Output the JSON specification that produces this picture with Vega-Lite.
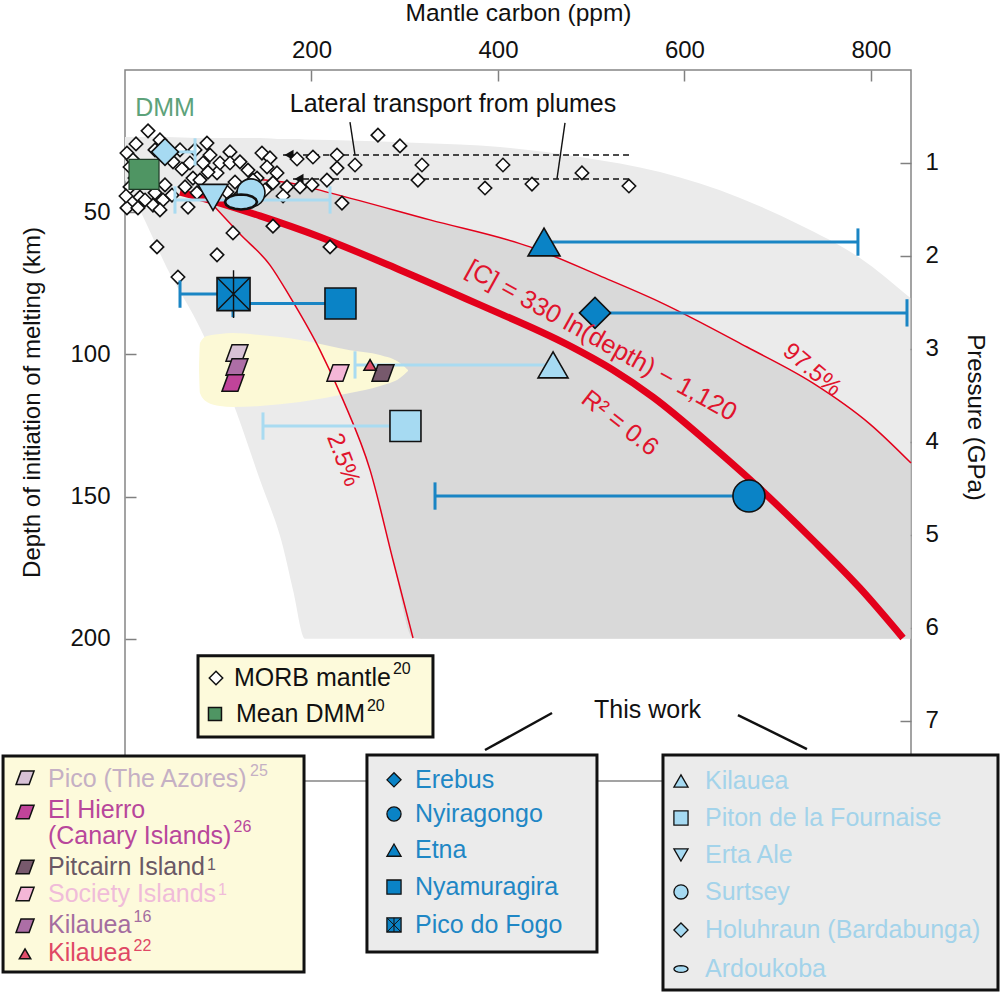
{
"$schema": "https://vega.github.io/schema/vega-lite/v6.json",
"width": 786, "height": 711,
"autosize": {"type": "none"},
"padding": {"left": 125, "top": 70, "right": 89, "bottom": 211},
"background": "white",
"config": {
  "font": "Liberation Sans",
  "view": {"stroke": "#858585", "strokeWidth": 1.5},
  "axis": {"domain": false, "grid": false, "tickColor": "#808080", "tickWidth": 1.5, "tickSize": -11,
           "labelFont": "Liberation Sans", "labelFontSize": 24, "labelColor": "#111",
           "titleFont": "Liberation Sans", "titleFontSize": 25, "titleFontWeight": "normal", "titleColor": "#111"}
},
"datasets": {
  "lightGray": [
    {"c":0,"top":23.6,"bot":38.7},{"c":16.1,"top":23.6,"bot":49.2},{"c":23.6,"top":23.6,"bot":54.5},
    {"c":45.0,"top":23.6,"bot":69.6},{"c":77.2,"top":23.9,"bot":88.6},{"c":112.6,"top":23.9,"bot":114.3},
    {"c":144.8,"top":23.9,"bot":144.2},{"c":169.5,"top":24.3,"bot":167.7},{"c":180.2,"top":24.3,"bot":182.8},
    {"c":193.1,"top":24.4,"bot":200},{"c":219.9,"top":24.6,"bot":200},{"c":316.4,"top":25.7,"bot":200},
    {"c":402.2,"top":27.1,"bot":200},{"c":488.0,"top":30.6,"bot":200},{"c":573.8,"top":35.9,"bot":200},
    {"c":659.6,"top":45.0,"bot":200},{"c":723.9,"top":54.5,"bot":200},{"c":788.3,"top":66.1,"bot":200},
    {"c":842.3,"top":80.2,"bot":200}
  ],
  "darkGray": [
    {"c":94.4,"top":45.4,"bot":47.5},{"c":123.3,"top":39.5,"bot":57.7},{"c":134.1,"top":38.3,"bot":61.4},
    {"c":155.5,"top":39.0,"bot":68.6},{"c":177.0,"top":39.7,"bot":79.8},{"c":209.1,"top":42.3,"bot":98.5},
    {"c":219.9,"top":43.2,"bot":106.2},{"c":233.8,"top":44.4,"bot":116.0},{"c":262.8,"top":47.0,"bot":140.6},
    {"c":287.4,"top":49.2,"bot":172.3},{"c":308.9,"top":51.1,"bot":199.7},{"c":327.1,"top":52.7,"bot":200},
    {"c":434.4,"top":62.2,"bot":200},{"c":509.4,"top":72.4,"bot":200},{"c":573.8,"top":81.6,"bot":200},
    {"c":667.1,"top":97.4,"bot":200},{"c":737.9,"top":110.1,"bot":200},{"c":799.0,"top":124.5,"bot":200},
    {"c":842.3,"top":138.0,"bot":200}
  ],
  "yellow": [
    {"c":79.4,"top":104.8,"bot":105.5},{"c":80.4,"top":96.0,"bot":113.6},{"c":87.9,"top":93.5,"bot":116.7},
    {"c":101.9,"top":92.8,"bot":118.1},{"c":115.8,"top":92.5,"bot":118.5},{"c":144.8,"top":93.2,"bot":118.1},
    {"c":187.7,"top":94.9,"bot":116.7},{"c":241.3,"top":98.5,"bot":113.6},{"c":273.5,"top":100.2,"bot":111.1},
    {"c":294.9,"top":103.0,"bot":108.3},{"c":303.5,"top":105.5,"bot":105.8}
  ],
  "curves": [
    {"k":"p975","c":134.1,"d":38.3},{"k":"p975","c":177.0,"d":39.7},{"k":"p975","c":219.9,"d":43.2},
    {"k":"p975","c":327.1,"d":52.7},{"k":"p975","c":434.4,"d":62.2},{"k":"p975","c":509.4,"d":72.4},
    {"k":"p975","c":573.8,"d":81.6},{"k":"p975","c":667.1,"d":97.4},{"k":"p975","c":737.9,"d":110.1},
    {"k":"p975","c":799.0,"d":124.5},{"k":"p975","c":843,"d":138.2},
    {"k":"p025","c":94.4,"d":47.5},{"k":"p025","c":123.3,"d":57.7},{"k":"p025","c":155.5,"d":68.6},
    {"k":"p025","c":177.0,"d":79.8},{"k":"p025","c":209.1,"d":98.5},{"k":"p025","c":233.8,"d":116.0},
    {"k":"p025","c":262.8,"d":140.6},{"k":"p025","c":287.4,"d":172.3},{"k":"p025","c":308.9,"d":199.7},
    {"k":"fit","c":59.0,"d":42.9},{"k":"fit","c":94.4,"d":46.1},{"k":"fit","c":144.8,"d":51.3},
    {"k":"fit","c":209.1,"d":58.7},{"k":"fit","c":294.9,"d":70.3},{"k":"fit","c":380.7,"d":82.6},
    {"k":"fit","c":474.0,"d":96.5},{"k":"fit","c":523.4,"d":105.5},{"k":"fit","c":566.3,"d":115.0},
    {"k":"fit","c":630.6,"d":132.5},{"k":"fit","c":670.3,"d":144.0},{"k":"fit","c":737.9,"d":165.3},
    {"k":"fit","c":788.3,"d":182.2},{"k":"fit","c":834.4,"d":199.7}
  ],
  "morb": [
    {"c":24.7,"d":21.4},{"c":11.8,"d":26.0},{"c":87.9,"d":25.7},{"c":112.6,"d":28.8},{"c":146.9,"d":29.2},
    {"c":155.5,"d":30.9},{"c":184.5,"d":31.3},{"c":201.6,"d":30.6},{"c":2.1,"d":29.2},{"c":5.4,"d":34.1},
    {"c":51.5,"d":32.3},{"c":61.1,"d":34.8},{"c":69.7,"d":32.7},{"c":83.7,"d":32.7},{"c":98.7,"d":36.2},
    {"c":101.9,"d":32.7},{"c":112.6,"d":32.7},{"c":123.3,"d":32.3},{"c":131.9,"d":35.2},{"c":141.6,"d":38.0},
    {"c":152.3,"d":34.1},{"c":163.0,"d":36.2},{"c":158.7,"d":39.7},{"c":173.7,"d":41.1},{"c":187.7,"d":41.1},
    {"c":200.6,"d":40.4},{"c":169.5,"d":44.3},{"c":5.4,"d":41.1},{"c":16.1,"d":44.7},{"c":30.0,"d":47.5},
    {"c":40.8,"d":45.7},{"c":2.1,"d":48.5},{"c":13.9,"d":48.5},{"c":67.6,"d":48.2},{"c":64.4,"d":41.1},
    {"c":77.2,"d":43.2},{"c":109.4,"d":42.9},{"c":118.0,"d":39.4},{"c":137.3,"d":38.7},{"c":72.9,"d":38.0},
    {"c":89.0,"d":35.9},{"c":115.8,"d":57.3},{"c":158.7,"d":54.9},{"c":34.3,"d":62.2},{"c":98.7,"d":65.0},
    {"c":56.8,"d":72.8},{"c":219.9,"d":62.2},{"c":271.3,"d":22.9},{"c":294.9,"d":26.7},{"c":227.4,"d":29.9},
    {"c":246.7,"d":33.4},{"c":227.4,"d":34.5},{"c":318.5,"d":33.4},{"c":314.2,"d":38.7},{"c":405.4,"d":33.4},
    {"c":386.1,"d":41.5},{"c":436.5,"d":40.1},{"c":490.1,"d":36.2},{"c":540.5,"d":40.8},{"c":232.7,"d":46.8},
    {"c":8.6,"d":31.6},{"c":21.5,"d":35.2},{"c":26.8,"d":38.7},{"c":16.1,"d":35.9},{"c":32.2,"d":43.2},
    {"c":1.1,"d":44.3},{"c":21.5,"d":45.7},{"c":42.9,"d":40.4},{"c":10.7,"d":38.0},{"c":37.5,"d":49.2},
    {"c":50.4,"d":44.0},{"c":80.4,"d":38.7},{"c":91.2,"d":29.9},{"c":59.0,"d":28.1},{"c":37.5,"d":24.6},
    {"c":216.6,"d":38.7},{"c":134.1,"d":44.0},{"c":32.2,"d":28.1},{"c":75.1,"d":28.1},{"c":150.2,"d":42.2},
    {"c":123.3,"d":44.0}
  ],
  "dashes": [{"c":169.5,"c2":541.6,"d":29.9},{"c":180.2,"c2":541.6,"d":38.3}],
  "arrows": [{"c":175.9,"d":29.9},{"c":186.6,"d":38.3}],
  "leaders": [{"c":241.3,"d":18.3,"c2":246.7,"d2":29.9},{"c":471.9,"d":18.6,"c2":463.3,"d2":38.3}],
  "twLines": [{"c":458.0,"d":226.1,"c2":386.1,"d2":239.1},{"c":657.4,"d":226.8,"c2":731.4,"d2":238.8}],
  "bars": [
    {"name":"Etna","tone":"dark","c":449.4,"c2":786.1,"d":60.5},
    {"name":"Erebus","tone":"dark","c":504.1,"c2":838.7,"d":85.4},
    {"name":"Nyiragongo","tone":"dark","c":332.5,"c2":669.2,"d":149.8},
    {"name":"Nyamuragira","tone":"dark","c":115.8,"c2":231.1,"d":82.1},
    {"name":"Pico do Fogo","tone":"dark","c":59.0,"c2":116.4,"d":78.8},
    {"name":"Kilauea","tone":"light","c":246.7,"c2":459.1,"d":103.7},
    {"name":"Piton de la Fournaise","tone":"light","c":148.0,"c2":300.8,"d":125.2},
    {"name":"Holuhraun (Bardabunga)","tone":"light","c":42.9,"c2":75.1,"d":28.8},
    {"name":"Surtsey","tone":"light","c":53.6,"c2":219.9,"d":45.7}
  ],
  "caps": [
    {"tone":"dark","c":786.1,"d":55.7,"d2":65.3},
    {"tone":"dark","c":838.7,"d":80.6,"d2":90.2},
    {"tone":"dark","c":332.5,"d":145.0,"d2":154.6},
    {"tone":"dark","c":115.8,"d":77.3,"d2":86.9},
    {"tone":"dark","c":59.0,"d":74.0,"d2":83.6},
    {"tone":"light","c":246.7,"d":98.9,"d2":108.5},
    {"tone":"light","c":148.0,"d":120.4,"d2":130.0},
    {"tone":"light","c":75.1,"d":24.0,"d2":33.6},
    {"tone":"light","c":53.6,"d":40.9,"d2":50.5},
    {"tone":"light","c":219.9,"d":40.9,"d2":50.5}
  ],
  "big": [
    {"name":"Etna","c":449.4,"d":60.5},
    {"name":"Erebus","c":504.1,"d":85.4},
    {"name":"Nyiragongo","c":669.2,"d":149.8},
    {"name":"Nyamuragira","c":231.1,"d":82.1},
    {"name":"Pico do Fogo","c":116.4,"d":78.8},
    {"name":"Kilauea","c":459.1,"d":103.7},
    {"name":"Piton de la Fournaise","c":300.8,"d":125.2},
    {"name":"Erta Ale","c":94.4,"d":44.8},
    {"name":"Surtsey","c":135.1,"d":43.2},
    {"name":"Ardoukoba","c":124.4,"d":46.4},
    {"name":"Holuhraun (Bardabunga)","c":42.9,"d":28.8}
  ],
  "hot": [
    {"name":"Pico","c":120.1,"d":99.5},
    {"name":"Kilauea16","c":120.1,"d":104.4},
    {"name":"El Hierro","c":115.8,"d":110.1},
    {"name":"Society","c":228.4,"d":106.5},
    {"name":"Pitcairn","c":276.7,"d":106.5},
    {"name":"Kilauea22","c":262.8,"d":103.7}
  ],
  "boxes": [
    {"box":"morb","c":78.3,"c2":330.3,"d":206.0,"d2":234.5},
    {"box":"hot","c":-130.8,"c2":192.0,"d":241.2,"d2":317.2},
    {"box":"mid","c":259.5,"c2":506.2,"d":240.9,"d2":310.1},
    {"box":"right","c":577.0,"c2":936.3,"d":240.9,"d2":323.5}
  ],
  "lgHot": [
    {"name":"Pico","c":-107.2,"d":248.9},
    {"name":"El Hierro","c":-107.2,"d":260.9},
    {"name":"Pitcairn","c":-107.2,"d":280.2},
    {"name":"Society","c":-107.2,"d":289.7},
    {"name":"Kilauea16","c":-107.2,"d":300.9},
    {"name":"Kilauea22","c":-107.2,"d":310.8}
  ],
  "lgHotText": [
    {"name":"Pico","t":"Pico (The Azores)","c":-82.6,"d":249.3},
    {"name":"El Hierro","t":"El Hierro\n(Canary Islands)","c":-82.6,"d":260.2},
    {"name":"Pitcairn","t":"Pitcairn Island","c":-82.6,"d":280.4},
    {"name":"Society","t":"Society Islands","c":-82.6,"d":289.6},
    {"name":"Kilauea16","t":"Kilauea","c":-82.6,"d":300.6},
    {"name":"Kilauea22","t":"Kilauea","c":-82.6,"d":310.4}
  ],
  "sups": [
    {"name":"Pico","t":"25","c":134.1,"d":246.5},
    {"name":"El Hierro","t":"26","c":116.4,"d":266.0},
    {"name":"Pitcairn","t":"1","c":87.9,"d":279.7},
    {"name":"Society","t":"1","c":99.7,"d":288.2},
    {"name":"Kilauea16","t":"16","c":9.1,"d":297.8},
    {"name":"Kilauea22","t":"22","c":9.1,"d":308.0},
    {"name":"black","t":"20","c":287.4,"d":210.6},
    {"name":"black","t":"20","c":259.5,"d":223.6}
  ],
  "lgTW": [
    {"name":"Erebus","c":288.5,"d":249.6},
    {"name":"Nyiragongo","c":288.5,"d":261.6},
    {"name":"Etna","c":288.5,"d":274.3},
    {"name":"Nyamuragira","c":288.5,"d":287.3},
    {"name":"Pico do Fogo","c":288.5,"d":300.6},
    {"name":"Kilauea","c":596.3,"d":250.0},
    {"name":"Piton de la Fournaise","c":596.3,"d":263.0},
    {"name":"Erta Ale","c":596.3,"d":276.0},
    {"name":"Surtsey","c":596.3,"d":289.0},
    {"name":"Holuhraun (Bardabunga)","c":596.3,"d":302.4},
    {"name":"Ardoukoba","c":596.3,"d":316.1}
  ],
  "lgTWText": [
    {"tone":"dark","t":"Erebus","c":311.0,"d":249.6},
    {"tone":"dark","t":"Nyiragongo","c":311.0,"d":261.6},
    {"tone":"dark","t":"Etna","c":311.0,"d":274.3},
    {"tone":"dark","t":"Nyamuragira","c":311.0,"d":287.3},
    {"tone":"dark","t":"Pico do Fogo","c":311.0,"d":300.6},
    {"tone":"light","t":"Kilauea","c":622.1,"d":250.0},
    {"tone":"light","t":"Piton de la Fournaise","c":622.1,"d":263.0},
    {"tone":"light","t":"Erta Ale","c":622.1,"d":276.0},
    {"tone":"light","t":"Surtsey","c":622.1,"d":289.0},
    {"tone":"light","t":"Holuhraun (Bardabunga)","c":622.1,"d":302.4},
    {"tone":"light","t":"Ardoukoba","c":622.1,"d":316.1}
  ],
  "lgMorb": [{"k":"morb","c":97.6,"d":213.8},{"k":"dmm","c":96.5,"d":226.4}],
  "lgMorbText": [{"t":"MORB mantle","c":116.9,"d":213.8},{"t":"Mean DMM","c":119.0,"d":226.4}],
  "dmm": [{"c":20.4,"d":36.7}]
},
"layer": [
{
  "layer": [
    {
      "data": {"name": "lightGray"},
      "mark": {"type": "area", "color": "#ebebeb", "interpolate": "monotone"},
      "encoding": {
        "x": {"field": "c", "type": "quantitative", "scale": {"domain": [0, 843], "nice": false, "zero": false},
              "axis": {"orient": "top", "values": [200, 400, 600, 800], "title": "Mantle carbon (ppm)", "labelPadding": 18.7,
                       "titleX": 393, "titleY": -50, "titleAlign": "center", "titleBaseline": "alphabetic", "titleAngle": 0, "titleFontSize": 24.5}},
        "y": {"field": "top", "type": "quantitative", "scale": {"domain": [0, 250], "reverse": true, "nice": false, "zero": false},
              "axis": {"orient": "left", "values": [50, 100, 150, 200], "title": "Depth of initiation of melting (km)", "labelPadding": 26,
                       "titleX": -85.5, "titleY": 332, "titleAngle": -90, "titleAlign": "center", "titleBaseline": "alphabetic", "titleFontSize": 24}},
        "y2": {"field": "bot"}
      }
    },
    {
      "data": {"name": "darkGray"},
      "mark": {"type": "area", "color": "#d9d9d9", "interpolate": "monotone"},
      "encoding": {"x": {"field": "c", "type": "quantitative"}, "y": {"field": "top", "type": "quantitative"}, "y2": {"field": "bot"}}
    },
    {
      "data": {"name": "yellow"},
      "mark": {"type": "area", "color": "#fcf9d6", "interpolate": "monotone"},
      "encoding": {"x": {"field": "c", "type": "quantitative"}, "y": {"field": "top", "type": "quantitative"}, "y2": {"field": "bot"}}
    },
    {
      "data": {"name": "curves"},
      "transform": [{"filter": "datum.k !== 'fit'"}],
      "mark": {"type": "line", "color": "#e3001b", "strokeWidth": 1.5, "interpolate": "monotone"},
      "encoding": {"x": {"field": "c", "type": "quantitative"}, "y": {"field": "d", "type": "quantitative"}, "detail": {"field": "k"}}
    },
    {
      "data": {"name": "curves"},
      "transform": [{"filter": "datum.k === 'fit'"}],
      "mark": {"type": "line", "color": "#e3001b", "strokeWidth": 7, "strokeCap": "butt", "interpolate": "monotone"},
      "encoding": {"x": {"field": "c", "type": "quantitative"}, "y": {"field": "d", "type": "quantitative"}}
    },
    {
      "data": {"name": "dashes"},
      "mark": {"type": "rule", "color": "#111", "strokeWidth": 1.6, "strokeDash": [6, 4]},
      "encoding": {"x": {"field": "c", "type": "quantitative"}, "x2": {"field": "c2"}, "y": {"field": "d", "type": "quantitative"}}
    },
    {
      "data": {"name": "leaders"},
      "mark": {"type": "rule", "color": "#111", "strokeWidth": 1.4},
      "encoding": {"x": {"field": "c", "type": "quantitative"}, "x2": {"field": "c2"}, "y": {"field": "d", "type": "quantitative"}, "y2": {"field": "d2"}}
    },
    {
      "data": {"name": "arrows"},
      "mark": {"type": "point", "shape": "triangle-left", "filled": true, "color": "#111", "size": 110, "opacity": 1},
      "encoding": {"x": {"field": "c", "type": "quantitative"}, "y": {"field": "d", "type": "quantitative"}}
    },
    {
      "data": {"name": "morb"},
      "mark": {"type": "point", "shape": "diamond", "filled": true, "fill": "white", "stroke": "#111", "strokeWidth": 1.6, "size": 180, "opacity": 1},
      "encoding": {"x": {"field": "c", "type": "quantitative"}, "y": {"field": "d", "type": "quantitative"}}
    },
    {
      "data": {"name": "dmm"},
      "mark": {"type": "point", "shape": "square", "filled": true, "fill": "#4f9563", "stroke": "#1e3a26", "strokeWidth": 1.2, "size": 900, "opacity": 1},
      "encoding": {"x": {"field": "c", "type": "quantitative"}, "y": {"field": "d", "type": "quantitative"}}
    },
    {
      "data": {"name": "bars"},
      "mark": {"type": "rule", "strokeWidth": 3},
      "encoding": {"x": {"field": "c", "type": "quantitative"}, "x2": {"field": "c2"}, "y": {"field": "d", "type": "quantitative"},
                   "stroke": {"field": "tone", "type": "nominal", "scale": {"domain": ["dark", "light"], "range": ["#1a85c4", "#a9dbf1"]}, "legend": null}}
    },
    {
      "data": {"name": "caps"},
      "mark": {"type": "rule", "strokeWidth": 3},
      "encoding": {"x": {"field": "c", "type": "quantitative"}, "y": {"field": "d", "type": "quantitative"}, "y2": {"field": "d2"},
                   "stroke": {"field": "tone", "type": "nominal", "scale": {"domain": ["dark", "light"], "range": ["#1a85c4", "#a9dbf1"]}, "legend": null}}
    },
    {
      "data": {"name": "big"},
      "mark": {"type": "point", "filled": true, "stroke": "#111", "strokeWidth": 1.6, "opacity": 1},
      "encoding": {
        "x": {"field": "c", "type": "quantitative"}, "y": {"field": "d", "type": "quantitative"},
        "shape": {"field": "name", "type": "nominal", "legend": null, "scale": {"domain": ["Etna","Erebus","Nyiragongo","Nyamuragira","Pico do Fogo","Kilauea","Piton de la Fournaise","Erta Ale","Surtsey","Ardoukoba","Holuhraun (Bardabunga)"],
          "range": ["triangle-up","diamond","circle","square","square","triangle-up","square","triangle-down","circle","M -1 0 L -0.92 0.18 L -0.71 0.33 L -0.38 0.43 L 0 0.47 L 0.38 0.43 L 0.71 0.33 L 0.92 0.18 L 1 0 L 0.92 -0.18 L 0.71 -0.33 L 0.38 -0.43 L 0 -0.47 L -0.38 -0.43 L -0.71 -0.33 L -0.92 -0.18 Z","diamond"]}},
        "fill": {"field": "name", "type": "nominal", "legend": null, "scale": {"domain": ["Etna","Erebus","Nyiragongo","Nyamuragira","Pico do Fogo","Kilauea","Piton de la Fournaise","Erta Ale","Surtsey","Ardoukoba","Holuhraun (Bardabunga)"],
          "range": ["#0a83c6","#0a83c6","#0a83c6","#0a83c6","#0a83c6","#a6daf2","#a6daf2","#a6daf2","#a6daf2","#a6daf2","#a6daf2"]}},
        "size": {"field": "name", "type": "nominal", "legend": null, "scale": {"type": "ordinal", "domain": ["Etna","Erebus","Nyiragongo","Nyamuragira","Pico do Fogo","Kilauea","Piton de la Fournaise","Erta Ale","Surtsey","Ardoukoba","Holuhraun (Bardabunga)"],
          "range": [1024, 961, 1024, 961, 1089, 900, 961, 900, 784, 1024, 729]}},
        "strokeWidth": {"field": "name", "type": "nominal", "legend": null, "scale": {"type": "ordinal", "domain": ["Etna","Erebus","Nyiragongo","Nyamuragira","Pico do Fogo","Kilauea","Piton de la Fournaise","Erta Ale","Surtsey","Ardoukoba","Holuhraun (Bardabunga)"],
          "range": [1.6, 1.6, 1.6, 1.6, 1.6, 1.6, 1.6, 1.6, 1.6, 2.6, 1.6]}}
      }
    },
    {
      "data": {"name": "big"},
      "transform": [{"filter": "datum.name === 'Pico do Fogo'"}],
      "mark": {"type": "point", "shape": "M -1 -1 L 1 1 M -1 1 L 1 -1 M 0 -1.45 L 0 1.45", "filled": false, "stroke": "#111", "strokeWidth": 1.4, "size": 1089, "opacity": 1},
      "encoding": {"x": {"field": "c", "type": "quantitative"}, "y": {"field": "d", "type": "quantitative"}}
    },
    {
      "data": {"name": "hot"},
      "mark": {"type": "point", "filled": true, "stroke": "#111", "strokeWidth": 1.5, "opacity": 1},
      "encoding": {
        "x": {"field": "c", "type": "quantitative"}, "y": {"field": "d", "type": "quantitative"},
        "shape": {"field": "name", "type": "nominal", "legend": null, "scale": {"domain": ["Pico","El Hierro","Pitcairn","Society","Kilauea16","Kilauea22"],
          "range": ["M -0.45 -0.75 L 1 -0.75 L 0.45 0.75 L -1 0.75 Z","M -0.45 -0.75 L 1 -0.75 L 0.45 0.75 L -1 0.75 Z","M -0.45 -0.75 L 1 -0.75 L 0.45 0.75 L -1 0.75 Z","M -0.45 -0.75 L 1 -0.75 L 0.45 0.75 L -1 0.75 Z","M -0.45 -0.75 L 1 -0.75 L 0.45 0.75 L -1 0.75 Z","triangle-up"]}},
        "fill": {"field": "name", "type": "nominal", "legend": null, "scale": {"domain": ["Pico","El Hierro","Pitcairn","Society","Kilauea16","Kilauea22"],
          "range": ["#d8c2d6","#c0449a","#77596c","#f4b6d7","#ad6ea6","#e14f6c"]}},
        "size": {"field": "name", "type": "nominal", "legend": null, "scale": {"type": "ordinal", "domain": ["Pico","El Hierro","Pitcairn","Society","Kilauea16","Kilauea22"],
          "range": [484, 484, 484, 484, 484, 150]}}
      }
    },
    {
      "data": {"values": [{"t": "Lateral transport from plumes", "c": 351.8, "d": 11.8}, {"t": "This work", "c": 560.4, "d": 225.0}]},
      "mark": {"type": "text", "fontSize": 25, "color": "#111", "align": "center", "baseline": "middle"},
      "encoding": {"x": {"field": "c", "type": "quantitative"}, "y": {"field": "d", "type": "quantitative"}, "text": {"field": "t"}}
    },
    {
      "data": {"values": [{"t": "DMM", "c": 42.9, "d": 13.2}]},
      "mark": {"type": "text", "fontSize": 25, "color": "#5da27a", "align": "center", "baseline": "middle"},
      "encoding": {"x": {"field": "c", "type": "quantitative"}, "y": {"field": "d", "type": "quantitative"}, "text": {"field": "t"}}
    },
    {
      "data": {"values": [{"t": "[C] = 330 ln(depth) − 1,120", "c": 511.0, "d": 95.2}]},
      "mark": {"type": "text", "fontSize": 25.5, "color": "#e0142d", "align": "center", "baseline": "middle", "angle": 29},
      "encoding": {"x": {"field": "c", "type": "quantitative"}, "y": {"field": "d", "type": "quantitative"}, "text": {"field": "t"}}
    },
    {
      "data": {"values": [{"t": "R² = 0.6", "c": 530.9, "d": 124.1}]},
      "mark": {"type": "text", "fontSize": 25, "color": "#e0142d", "align": "center", "baseline": "middle", "angle": 38},
      "encoding": {"x": {"field": "c", "type": "quantitative"}, "y": {"field": "d", "type": "quantitative"}, "text": {"field": "t"}}
    },
    {
      "data": {"values": [{"t": "97.5%", "c": 736.8, "d": 105.5}]},
      "mark": {"type": "text", "fontSize": 24, "color": "#e0142d", "align": "center", "baseline": "middle", "angle": 40},
      "encoding": {"x": {"field": "c", "type": "quantitative"}, "y": {"field": "d", "type": "quantitative"}, "text": {"field": "t"}}
    },
    {
      "data": {"values": [{"t": "2.5%", "c": 233.8, "d": 137.1}]},
      "mark": {"type": "text", "fontSize": 24, "color": "#e0142d", "align": "center", "baseline": "middle", "angle": 69},
      "encoding": {"x": {"field": "c", "type": "quantitative"}, "y": {"field": "d", "type": "quantitative"}, "text": {"field": "t"}}
    },
    {
      "data": {"name": "twLines"},
      "mark": {"type": "rule", "color": "#111", "strokeWidth": 2.5},
      "encoding": {"x": {"field": "c", "type": "quantitative"}, "x2": {"field": "c2"}, "y": {"field": "d", "type": "quantitative"}, "y2": {"field": "d2"}}
    },
    {
      "data": {"name": "boxes"},
      "mark": {"type": "rect", "stroke": "#111", "strokeWidth": 3},
      "encoding": {"x": {"field": "c", "type": "quantitative"}, "x2": {"field": "c2"}, "y": {"field": "d", "type": "quantitative"}, "y2": {"field": "d2"},
                   "fill": {"field": "box", "type": "nominal", "legend": null, "scale": {"domain": ["morb", "hot", "mid", "right"], "range": ["#fdfadb", "#fdfadb", "#ebebeb", "#ebebeb"]}}}
    },
    {
      "data": {"name": "lgMorb"},
      "mark": {"type": "point", "filled": true, "stroke": "#111", "strokeWidth": 1.5, "opacity": 1},
      "encoding": {"x": {"field": "c", "type": "quantitative"}, "y": {"field": "d", "type": "quantitative"},
        "shape": {"field": "k", "type": "nominal", "legend": null, "scale": {"domain": ["morb", "dmm"], "range": ["diamond", "square"]}},
        "fill": {"field": "k", "type": "nominal", "legend": null, "scale": {"domain": ["morb", "dmm"], "range": ["#ffffff", "#4f9563"]}},
        "size": {"field": "k", "type": "nominal", "legend": null, "scale": {"type": "ordinal", "domain": ["morb", "dmm"], "range": [180, 169]}}}
    },
    {
      "data": {"name": "lgMorbText"},
      "mark": {"type": "text", "fontSize": 25, "color": "#111", "align": "left", "baseline": "middle"},
      "encoding": {"x": {"field": "c", "type": "quantitative"}, "y": {"field": "d", "type": "quantitative"}, "text": {"field": "t"}}
    },
    {
      "data": {"name": "lgHot"},
      "mark": {"type": "point", "filled": true, "stroke": "#111", "strokeWidth": 1.5, "opacity": 1},
      "encoding": {
        "x": {"field": "c", "type": "quantitative"}, "y": {"field": "d", "type": "quantitative"},
        "shape": {"field": "name", "type": "nominal", "legend": null, "scale": {"domain": ["Pico","El Hierro","Pitcairn","Society","Kilauea16","Kilauea22"],
          "range": ["M -0.45 -0.75 L 1 -0.75 L 0.45 0.75 L -1 0.75 Z","M -0.45 -0.75 L 1 -0.75 L 0.45 0.75 L -1 0.75 Z","M -0.45 -0.75 L 1 -0.75 L 0.45 0.75 L -1 0.75 Z","M -0.45 -0.75 L 1 -0.75 L 0.45 0.75 L -1 0.75 Z","M -0.45 -0.75 L 1 -0.75 L 0.45 0.75 L -1 0.75 Z","triangle-up"]}},
        "fill": {"field": "name", "type": "nominal", "legend": null, "scale": {"domain": ["Pico","El Hierro","Pitcairn","Society","Kilauea16","Kilauea22"],
          "range": ["#d8c2d6","#c0449a","#77596c","#f4b6d7","#ad6ea6","#e14f6c"]}},
        "size": {"field": "name", "type": "nominal", "legend": null, "scale": {"type": "ordinal", "domain": ["Pico","El Hierro","Pitcairn","Society","Kilauea16","Kilauea22"],
          "range": [324, 324, 324, 324, 324, 130]}}
      }
    },
    {
      "data": {"name": "lgHotText"},
      "mark": {"type": "text", "fontSize": 25, "align": "left", "baseline": "middle", "lineBreak": "\n", "lineHeight": 26},
      "encoding": {"x": {"field": "c", "type": "quantitative"}, "y": {"field": "d", "type": "quantitative"}, "text": {"field": "t"},
        "color": {"field": "name", "type": "nominal", "legend": null, "scale": {"domain": ["Pico","El Hierro","Pitcairn","Society","Kilauea16","Kilauea22"],
          "range": ["#c5b0c4","#b8479b","#6a5865","#f0bcd9","#a46d9f","#df4865"]}}}
    },
    {
      "data": {"name": "sups"},
      "mark": {"type": "text", "fontSize": 16, "align": "left", "baseline": "middle"},
      "encoding": {"x": {"field": "c", "type": "quantitative"}, "y": {"field": "d", "type": "quantitative"}, "text": {"field": "t"},
        "color": {"field": "name", "type": "nominal", "legend": null, "scale": {"domain": ["Pico","El Hierro","Pitcairn","Society","Kilauea16","Kilauea22","black"],
          "range": ["#c5b0c4","#b8479b","#6a5865","#f0bcd9","#a46d9f","#df4865","#111111"]}}}
    },
    {
      "data": {"name": "lgTW"},
      "mark": {"type": "point", "filled": true, "stroke": "#111", "strokeWidth": 1.3, "size": 200, "opacity": 1},
      "encoding": {
        "x": {"field": "c", "type": "quantitative"}, "y": {"field": "d", "type": "quantitative"},
        "shape": {"field": "name", "type": "nominal", "legend": null, "scale": {"domain": ["Etna","Erebus","Nyiragongo","Nyamuragira","Pico do Fogo","Kilauea","Piton de la Fournaise","Erta Ale","Surtsey","Ardoukoba","Holuhraun (Bardabunga)"],
          "range": ["triangle-up","diamond","circle","square","square","triangle-up","square","triangle-down","circle","M -1 0 L -0.92 0.18 L -0.71 0.33 L -0.38 0.43 L 0 0.47 L 0.38 0.43 L 0.71 0.33 L 0.92 0.18 L 1 0 L 0.92 -0.18 L 0.71 -0.33 L 0.38 -0.43 L 0 -0.47 L -0.38 -0.43 L -0.71 -0.33 L -0.92 -0.18 Z","diamond"]}},
        "fill": {"field": "name", "type": "nominal", "legend": null, "scale": {"domain": ["Etna","Erebus","Nyiragongo","Nyamuragira","Pico do Fogo","Kilauea","Piton de la Fournaise","Erta Ale","Surtsey","Ardoukoba","Holuhraun (Bardabunga)"],
          "range": ["#0a83c6","#0a83c6","#0a83c6","#0a83c6","#0a83c6","#a6daf2","#a6daf2","#a6daf2","#a6daf2","#a6daf2","#a6daf2"]}}
      }
    },
    {
      "data": {"name": "lgTW"},
      "transform": [{"filter": "datum.name === 'Pico do Fogo'"}],
      "mark": {"type": "point", "shape": "M -1 -1 L 1 1 M -1 1 L 1 -1 M 0 -1 L 0 1", "filled": false, "stroke": "#111", "strokeWidth": 1, "size": 200, "opacity": 1},
      "encoding": {"x": {"field": "c", "type": "quantitative"}, "y": {"field": "d", "type": "quantitative"}}
    },
    {
      "data": {"name": "lgTWText"},
      "mark": {"type": "text", "fontSize": 25, "align": "left", "baseline": "middle"},
      "encoding": {"x": {"field": "c", "type": "quantitative"}, "y": {"field": "d", "type": "quantitative"}, "text": {"field": "t"},
        "color": {"field": "tone", "type": "nominal", "legend": null, "scale": {"domain": ["dark", "light"], "range": ["#1f87c5", "#a3d3ea"]}}}
    }
  ],
  "resolve": {"scale": {"shape": "independent", "fill": "independent", "size": "independent", "stroke": "independent", "color": "independent", "strokeWidth": "independent"}}
},
{
  "data": {"values": [{"p": 0}, {"p": 7.65}]},
  "mark": {"type": "point", "opacity": 0},
  "encoding": {
    "y": {"field": "p", "type": "quantitative", "scale": {"domain": [0, 7.65], "reverse": true, "nice": false, "zero": false},
          "axis": {"orient": "right", "values": [1, 2, 3, 4, 5, 6, 7], "title": "Pressure (GPa)", "labelPadding": 25,
                   "titleX": 56, "titleY": 347, "titleAngle": 90, "titleAlign": "center", "titleBaseline": "alphabetic", "titleFontSize": 24}}
  }
}
],
"resolve": {"scale": {"y": "independent"}, "axis": {"y": "independent"}}
}
